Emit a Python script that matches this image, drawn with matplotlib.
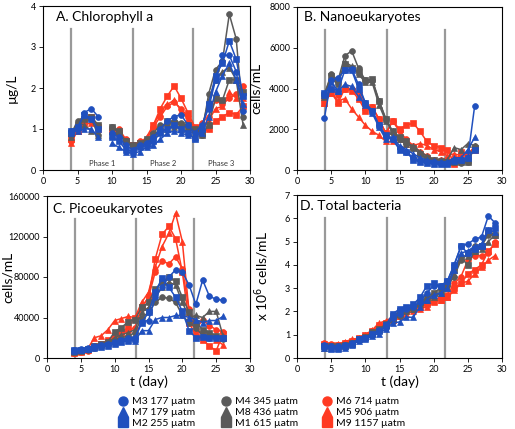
import numpy as np
import matplotlib
matplotlib.use("Agg")
import matplotlib.pyplot as plt
from matplotlib.lines import Line2D

plt.rcParams["font.family"] = ["Lato", "DejaVu Sans"]

nan = np.nan

# --------------------------------
# Data
# --------------------------------
days_a = list(range(4, 30))
days_b = list(range(4, 27))
days_c = list(range(4, 27))
days_d = list(range(4, 30))

series = ["M3", "M7", "M2", "M4", "M8", "M1", "M6", "M5", "M9"]
labels = ["M3 177 µatm", "M7 179 µatm", "M2 255 µatm",
          "M4 345 µatm", "M8 436 µatm", "M1 615 µatm",
          "M6 714 µatm", "M5 906 µatm", "M9 1157 µatm"]

chl = {
    "M3": [0.95, 1.0, 1.4, 1.5, 1.3, nan, 0.9, 0.8, 0.6, 0.5, 0.6, 0.65, 0.8, 1.0, 1.2, 1.3, 1.35, 1.1, 0.9, 1.1, 1.5, 2.2, 2.8, 2.8, 2.4, 1.45],
    "M7": [0.9, 0.95, 1.0, 1.0, 0.8, nan, 0.65, 0.55, 0.45, 0.4, 0.45, 0.55, 0.6, 0.75, 0.9, 0.95, 0.9, 0.85, 0.8, 0.9, 1.3, 1.9, 2.3, 2.6, 2.2, 1.6],
    "M2": [0.95, 1.05, 1.35, 1.25, 1.0, nan, 0.8, 0.7, 0.5, 0.45, 0.55, 0.6, 0.7, 0.9, 1.0, 1.1, 1.0, 0.9, 0.75, 1.0, 1.6, 2.3, 2.6, 3.15, 2.7, 1.8],
    "M4": [0.85, 1.2, 1.3, 1.25, 0.85, nan, 1.05, 0.9, 0.7, 0.55, 0.6, 0.7, 0.9, 1.1, 1.1, 1.2, 1.15, 1.0, 0.95, 0.85, 1.85, 2.45, 2.65, 3.8, 3.2, 1.3],
    "M8": [0.8, 1.15, 1.1, 0.95, 0.85, nan, 0.95, 0.85, 0.7, 0.6, 0.6, 0.65, 0.8, 0.95, 1.0, 1.05, 1.0, 0.95, 0.9, 1.0, 1.7, 2.2, 2.4, 2.5, 2.2, 1.1],
    "M1": [0.9, 1.1, 1.25, 1.3, 1.1, nan, 1.05, 0.95, 0.7, 0.6, 0.65, 0.75, 0.85, 1.0, 1.2, 1.15, 1.1, 1.1, 1.0, 0.85, 1.1, 1.75, 1.7, 2.2, 2.2, 1.9],
    "M6": [0.7, 1.0, 1.2, 1.25, 1.0, nan, 0.9, 1.0, 0.75, 0.6, 0.7, 0.75, 1.05, 1.3, 1.55, 1.65, 1.5, 1.3, 1.0, 1.15, 1.3, 1.7, 1.6, 1.75, 1.85, 2.05],
    "M5": [0.65, 0.95, 1.1, 1.15, 1.0, nan, 0.85, 0.95, 0.7, 0.6, 0.65, 0.8, 1.1, 1.4, 1.6, 1.7, 1.45, 1.25, 1.0, 1.0, 1.2, 1.5, 1.55, 1.9, 1.75, 1.75],
    "M9": [0.75, 0.95, 1.15, 1.3, 1.05, nan, 0.95, 0.9, 0.7, 0.6, 0.65, 0.7, 1.1, 1.5, 1.8, 2.05, 1.75, 1.4, 1.05, 0.9, 1.0, 1.2, 1.3, 1.4, 1.35, 1.55],
}

nano = {
    "M3": [2550, 4400, 4500, 4900, 4950, 4200, 3300, 2900, 2200, 1600, 1500, 1100, 900, 600, 500, 400, 400, 350, 350, 500, 500, 600, 3150],
    "M7": [3700, 4300, 3900, 4200, 4100, 3600, 3200, 2800, 2100, 1500, 1600, 1200, 1000, 800, 600, 500, 450, 400, 400, 600, 600, 1000, 1600],
    "M2": [3800, 4000, 3900, 4900, 4900, 4000, 3300, 2900, 2200, 1700, 1500, 1000, 900, 500, 400, 350, 300, 300, 300, 450, 500, 600, 1000],
    "M4": [3700, 4700, 4400, 5600, 5850, 5000, 4400, 4400, 3400, 2500, 1800, 1500, 1300, 1100, 800, 500, 450, 400, 400, 400, 350, 400, 1200],
    "M8": [3600, 4500, 4200, 5300, 5100, 4700, 4300, 4300, 3200, 2400, 1900, 1500, 1300, 1200, 900, 700, 500, 500, 500, 1100, 1000, 1300, 1200],
    "M1": [3700, 4600, 4300, 5200, 5000, 4800, 4400, 4450, 3400, 2500, 1900, 1600, 1400, 1100, 800, 600, 500, 450, 400, 400, 400, 400, 1100],
    "M6": [3500, 4000, 3700, 4000, 4000, 3800, 3000, 3100, 2500, 1800, 2400, 1900, 1500, 1200, 900, 700, 500, 500, 400, 500, 700, 800, 1100],
    "M5": [3300, 3800, 3400, 3500, 3000, 2600, 2200, 1900, 1700, 1400, 1400, 1500, 1300, 1200, 1300, 1200, 1000, 900, 700, 800, 700, 700, 1200],
    "M9": [3300, 3800, 3300, 4000, 3900, 3500, 2900, 3100, 2500, 1800, 2400, 2000, 2200, 2300, 1900, 1400, 1200, 1100, 1000, 300, 900, 700, 1000],
}

pico = {
    "M3": [8000, 9000, 10000, 12000, 13000, 14000, 16000, 18000, 20000, 20000, 36000, 37000, 60000, 70000, 80000, 87000, 85000, 72000, 53000, 77000, 61000, 58000, 57000],
    "M7": [7000, 8000, 9000, 10000, 11000, 12000, 14000, 16000, 17000, 17000, 27000, 27000, 38000, 40000, 40000, 42000, 42000, 40000, 38000, 35000, 37000, 37000, 41000],
    "M2": [8000, 8000, 9000, 11000, 12000, 13000, 15000, 17000, 18000, 19000, 35000, 45000, 65000, 79000, 70000, 60000, 46000, 27000, 20000, 21000, 20000, 20000, 20000],
    "M4": [6000, 7000, 8000, 10000, 12000, 14000, 18000, 20000, 22000, 25000, 40000, 45000, 55000, 60000, 59000, 55000, 42000, 35000, 30000, 22000, 20000, 21000, 19000],
    "M8": [6000, 7000, 9000, 11000, 13000, 15000, 20000, 23000, 25000, 28000, 45000, 50000, 60000, 70000, 75000, 72000, 55000, 40000, 42000, 40000, 46000, 46000, 22000],
    "M1": [7000, 8000, 9000, 12000, 14000, 16000, 26000, 30000, 36000, 38000, 50000, 55000, 68000, 75000, 80000, 76000, 60000, 45000, 35000, 28000, 25000, 22000, 20000],
    "M6": [5000, 6000, 7000, 10000, 13000, 16000, 20000, 24000, 27000, 30000, 50000, 60000, 85000, 96000, 93000, 100000, 88000, 48000, 28000, 38000, 32000, 28000, 26000],
    "M5": [6000, 7000, 9000, 20000, 22000, 28000, 37000, 39000, 41000, 40000, 55000, 65000, 90000, 110000, 123000, 143000, 115000, 45000, 25000, 26000, 25000, 18000, 13000],
    "M9": [5000, 6000, 8000, 12000, 14000, 18000, 22000, 26000, 30000, 40000, 50000, 60000, 98000, 122000, 130000, 118000, 85000, 35000, 22000, 18000, 12000, 7000, 24000],
}

bact = {
    "M3": [0.55, 0.5, 0.5, 0.55, 0.65, 0.8, 0.85, 1.0, 1.2, 1.3, 1.7, 1.9, 2.1, 2.2, 2.4, 2.8, 3.1, 3.1, 3.3, 4.0, 4.8, 4.9, 5.1, 5.2, 6.1, 5.8],
    "M7": [0.45, 0.4, 0.4, 0.45, 0.55, 0.75, 0.8, 0.95, 1.05, 1.25, 1.5, 1.55, 1.75, 1.75, 2.2, 2.5, 2.7, 2.8, 3.0, 3.8, 4.5, 4.6, 4.8, 4.9, 5.5, 5.4],
    "M2": [0.5, 0.45, 0.45, 0.5, 0.6, 0.8, 0.85, 1.05, 1.15, 1.4, 1.9, 2.1, 2.2, 2.3, 2.6, 3.1, 3.2, 3.1, 3.3, 4.0, 4.8, 4.5, 4.7, 4.8, 5.5, 5.6],
    "M4": [0.5, 0.5, 0.45, 0.5, 0.6, 0.8, 0.85, 1.0, 1.2, 1.35, 1.6, 1.8, 2.0, 2.1, 2.3, 2.5, 2.7, 2.8, 3.1, 3.5, 4.2, 4.5, 4.8, 4.8, 5.3, 5.3],
    "M8": [0.45, 0.45, 0.45, 0.5, 0.6, 0.8, 0.9, 1.05, 1.2, 1.4, 1.7, 1.9, 2.0, 2.1, 2.3, 2.5, 2.6, 2.8, 3.0, 3.6, 4.3, 4.4, 4.6, 4.7, 5.0, 5.3],
    "M1": [0.5, 0.5, 0.5, 0.55, 0.65, 0.8, 0.9, 1.1, 1.25, 1.45, 1.8, 2.0, 2.1, 2.2, 2.4, 2.6, 2.8, 3.0, 3.2, 3.8, 4.3, 4.0, 4.6, 4.8, 5.4, 5.3],
    "M6": [0.65, 0.6, 0.55, 0.65, 0.75, 0.8, 0.95, 1.15, 1.4, 1.5, 1.7, 1.9, 2.0, 2.1, 2.2, 2.3, 2.5, 2.6, 2.7, 3.2, 3.5, 4.2, 4.4, 4.4, 4.5, 5.0],
    "M5": [0.6, 0.55, 0.6, 0.7, 0.8, 0.85, 1.0, 1.2, 1.5, 1.6, 1.75, 1.8, 1.9, 2.0, 2.1, 2.2, 2.4, 2.5, 2.6, 2.9, 3.2, 3.3, 3.6, 3.9, 4.2, 4.4],
    "M9": [0.6, 0.55, 0.55, 0.65, 0.75, 0.85, 1.0, 1.15, 1.4, 1.5, 1.65, 1.8, 2.0, 2.1, 2.2, 2.3, 2.45, 2.5, 2.6, 3.0, 3.2, 3.6, 3.8, 4.0, 4.6, 4.9],
}

phase_days = [4.1, 13.1, 21.7]
phase_names = ["Phase 1", "Phase 2", "Phase 3"]
phase_text_x = [8.6, 17.4, 25.8]

# --------------------------------
# Styles
# --------------------------------
BLUE = "#2050BE"
GRAY = "#5A5A5A"
RED = "#FF3A22"
style = {
    "M3": (BLUE, "o"), "M7": (BLUE, "^"), "M2": (BLUE, "s"),
    "M4": (GRAY, "o"), "M8": (GRAY, "^"), "M1": (GRAY, "s"),
    "M6": (RED, "o"), "M5": (RED, "^"), "M9": (RED, "s"),
}
draw_order = ["M6", "M5", "M9", "M4", "M8", "M1", "M3", "M7", "M2"]

W, H = 515, 429
fig = plt.figure(figsize=(W / 100, H / 100), dpi=100)


def px_axes(left, top, right, bottom):
    return fig.add_axes([left / W, 1 - bottom / H, (right - left) / W, (bottom - top) / H])


def panel(ax, days, data, ymax, yticks, title, tx, ty):
    for name in draw_order:
        color, marker = style[name]
        ax.plot(days, data[name], color=color, marker=marker, markersize=4.2,
                linewidth=1.1, markeredgewidth=0.5, markeredgecolor=color)
    for d in phase_days:
        ax.axvline(d, ymin=0, ymax=0.86, color="#999999", linewidth=1.6, zorder=0)
    ax.set_xlim(0, 30)
    ax.set_ylim(0, ymax)
    ax.set_xticks(range(0, 31, 5))
    ax.set_yticks(yticks)
    ax.tick_params(labelsize=6.5, length=3, width=0.6, direction="out", pad=2)
    for s in ax.spines.values():
        s.set_linewidth(0.8)
    ax.text(tx, ty, title, transform=ax.transAxes, fontsize=10, va="center", ha="left")


axA = px_axes(43, 6, 250, 170)
panel(axA, days_a, chl, 4, [0, 1, 2, 3, 4], "A. Chlorophyll a", 0.063, 0.933)
axA.set_ylabel("µg/L", fontsize=10)
axA.yaxis.set_label_coords(-0.12, 0.5)
for x, t in zip(phase_text_x, phase_names):
    axA.text(x, 0.15, t, fontsize=5.5, ha="center", va="center", color="#333333")

axB = px_axes(297, 7, 502, 170)
panel(axB, days_b, nano, 8000, [0, 2000, 4000, 6000, 8000], "B. Nanoeukaryotes", 0.034, 0.94)
axB.set_ylabel("cells/mL", fontsize=10)
axB.yaxis.set_label_coords(-0.17, 0.5)

axC = px_axes(47, 196, 250, 358)
panel(axC, days_c, pico, 160000, [0, 40000, 80000, 120000, 160000], "C. Picoeukaryotes", 0.03, 0.92)
axC.set_ylabel("cells/mL", fontsize=10)
axC.yaxis.set_label_coords(-0.165, 0.5)
axC.set_xlabel("t (day)", fontsize=10, labelpad=1)

axD = px_axes(297, 195, 502, 358)
panel(axD, days_d, bact, 7, range(0, 8), "D. Total bacteria", 0.015, 0.93)
axD.set_ylabel("x 10$^6$ cells/mL", fontsize=10)
axD.yaxis.set_label_coords(-0.127, 0.5)
axD.set_xlabel("t (day)", fontsize=10, labelpad=1)

# --------------------------------
# Legend (three columns)
# --------------------------------
col_x = [118, 221, 322]
for c in range(3):
    handles = []
    for k in range(3):
        name = series[c * 3 + k]
        color, marker = style[name]
        handles.append(Line2D([], [], color=color, marker=marker, linestyle="none",
                              markersize=6.5))
    fig.legend(handles, labels[c * 3:c * 3 + 3], loc="upper left",
               bbox_to_anchor=(col_x[c] / W, 1 - 397 / H), frameon=False,
               fontsize=7.5, handlelength=1.0, handletextpad=0.3,
               labelspacing=0.15, borderaxespad=0, borderpad=0)

fig.savefig("out.png", dpi=100)
